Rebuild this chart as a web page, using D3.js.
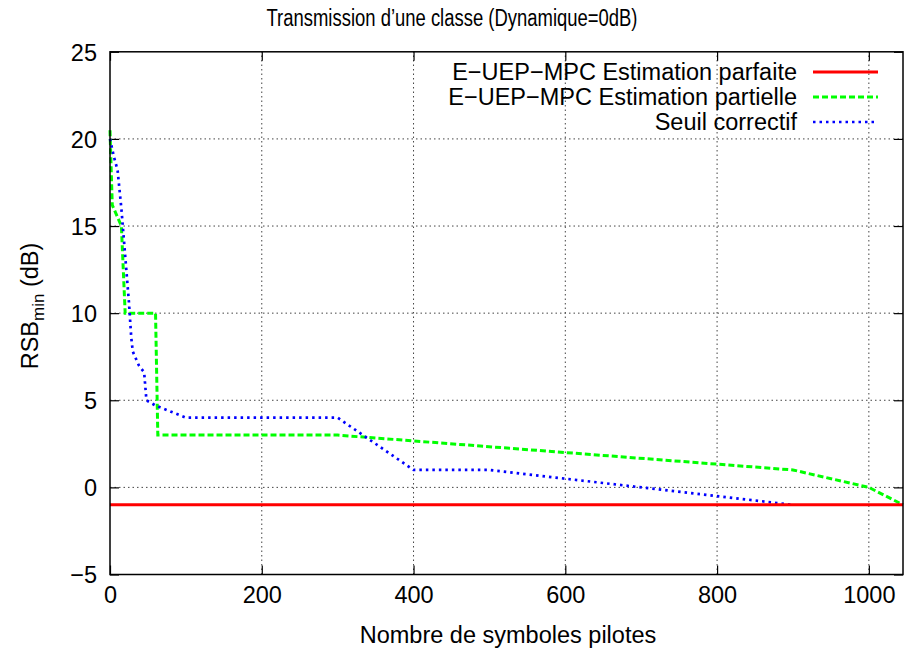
<!DOCTYPE html>
<html><head><meta charset="utf-8">
<script src="https://cdn.jsdelivr.net/npm/d3@7"></script>
<style>body{margin:0;background:#fff;} svg{display:block;} text{font-family:"Liberation Sans",Arial,sans-serif;fill:#000;}</style>
</head><body>
<div id="chart"></div>
<script>
const title = "Transmission d’une classe (Dynamique=0dB)";
const xLabel = "Nombre de symboles pilotes";
const xTicks = [0, 200, 400, 600, 800, 1000];
const yTicks = [-5, 0, 5, 10, 15, 20, 25];
const seriesNames = ["E−UEP−MPC Estimation parfaite", "E−UEP−MPC Estimation partielle", "Seuil correctif"];
const parfaiteX = [0, 1045];
const parfaiteY = [-1, -1];
const partielleX = [0, 3, 15, 20, 60, 63, 300, 900, 1000, 1045];
const partielleY = [20.5, 16.2, 15, 10, 10, 3, 3, 1, 0, -1];
const seuilX = [0, 5, 10, 15, 20, 25, 28, 30, 38, 45, 48, 60, 100, 300, 400, 500, 900];
const seuilY = [20, 19, 18.2, 16, 13.3, 10.6, 8.6, 7.8, 7, 6.6, 5, 4.7, 4, 4, 1, 1, -1];

const W = 904, H = 653;
const FS = 23.5;
const svg = d3.select("#chart").append("svg").attr("width", W).attr("height", H);
const x = d3.scaleLinear().domain([0, 1045]).range([110, 903]);
const y = d3.scaleLinear().domain([-5, 25]).range([574.5, 51.8]);
const [x0, x1] = x.range(), [y0, y1] = y.range();

// grid
const g = svg.append("g");
xTicks.filter(t => t > 0).forEach(t => g.append("line").attr("x1", x(t)).attr("x2", x(t)).attr("y1", y0).attr("y2", y1)
  .attr("stroke", "#444").attr("stroke-width", 1).attr("stroke-dasharray", "1.5,3"));
yTicks.filter(t => t > -5 && t < 25).forEach(t => g.append("line").attr("x1", x0).attr("x2", x1).attr("y1", y(t)).attr("y2", y(t))
  .attr("stroke", "#444").attr("stroke-width", 1).attr("stroke-dasharray", "1.5,3"));

// axes with inward ticks
const fmt = d => d < 0 ? "−" + Math.abs(d) : String(d);
const ax = svg.append("g").attr("transform", `translate(0,${y0})`).call(d3.axisBottom(x).tickValues(xTicks).tickSizeInner(-9).tickSizeOuter(0).tickPadding(12).tickFormat(fmt));
const axT = svg.append("g").attr("transform", `translate(0,${y1})`).call(d3.axisTop(x).tickValues(xTicks).tickSizeInner(-9).tickSizeOuter(0).tickFormat(""));
const ay = svg.append("g").attr("transform", `translate(${x0},0)`).call(d3.axisLeft(y).tickValues(yTicks).tickSizeInner(-9).tickSizeOuter(0).tickPadding(13).tickFormat(fmt));
const ayR = svg.append("g").attr("transform", `translate(${x1},0)`).call(d3.axisRight(y).tickValues(yTicks).tickSizeInner(-9).tickSizeOuter(0).tickFormat(""));
[ax, axT, ay, ayR].forEach(a => {
  a.select(".domain").remove();
  a.selectAll("line").attr("stroke", "#000").attr("stroke-width", 1.2);
  a.selectAll("text").attr("font-size", FS).attr("font-family", "Liberation Sans, Arial, sans-serif").attr("fill", "#000");
});
ay.selectAll("text").attr("dy", "0.36em");

// series
const line = d3.line().x(d => x(d[0])).y(d => y(d[1]));
const zip = (a, b) => a.map((v, i) => [v, b[i]]);
svg.append("path").datum(zip(partielleX, partielleY)).attr("d", line).attr("fill", "none")
  .attr("stroke", "#00ff00").attr("stroke-width", 3).attr("stroke-dasharray", "6,3");
svg.append("path").datum(zip(seuilX, seuilY)).attr("d", line).attr("fill", "none")
  .attr("stroke", "#0000ff").attr("stroke-width", 2.7).attr("stroke-dasharray", "2.5,4");
svg.append("path").datum(zip(parfaiteX, parfaiteY)).attr("d", line).attr("fill", "none")
  .attr("stroke", "#ff0000").attr("stroke-width", 3);

// border
svg.append("rect").attr("x", x0).attr("y", y1).attr("width", x1 - x0).attr("height", y0 - y1)
  .attr("fill", "none").attr("stroke", "#000").attr("stroke-width", 1.5);

// legend
const styles = [
  {c: "#ff0000", d: null, w: 3},
  {c: "#00ff00", d: "6,3", w: 3},
  {c: "#0000ff", d: "2.5,4", w: 2.7}
];
seriesNames.forEach((n, i) => {
  const yy = 72 + i * 25;
  svg.append("text").attr("x", 797).attr("y", yy).attr("dy", "0.36em").attr("text-anchor", "end").attr("font-size", FS).text(n);
  const l = svg.append("line").attr("x1", 813).attr("x2", 878).attr("y1", yy).attr("y2", yy)
    .attr("stroke", styles[i].c).attr("stroke-width", styles[i].w);
  if (styles[i].d) l.attr("stroke-dasharray", styles[i].d);
});

// title and labels
svg.append("text").attr("x", 452).attr("y", 25.5).attr("text-anchor", "middle").attr("font-size", FS)
  .attr("textLength", 371).attr("lengthAdjust", "spacingAndGlyphs").text(title);
svg.append("text").attr("x", 508).attr("y", 642.5).attr("text-anchor", "middle").attr("font-size", FS).text(xLabel);
const yl = svg.append("text").attr("transform", "translate(38,306) rotate(-90)").attr("text-anchor", "middle").attr("font-size", FS);
yl.append("tspan").text("RSB");
yl.append("tspan").attr("font-size", 17).attr("dy", 6).text("min");
yl.append("tspan").attr("dy", -6).text(" (dB)");
</script>
</body></html>
